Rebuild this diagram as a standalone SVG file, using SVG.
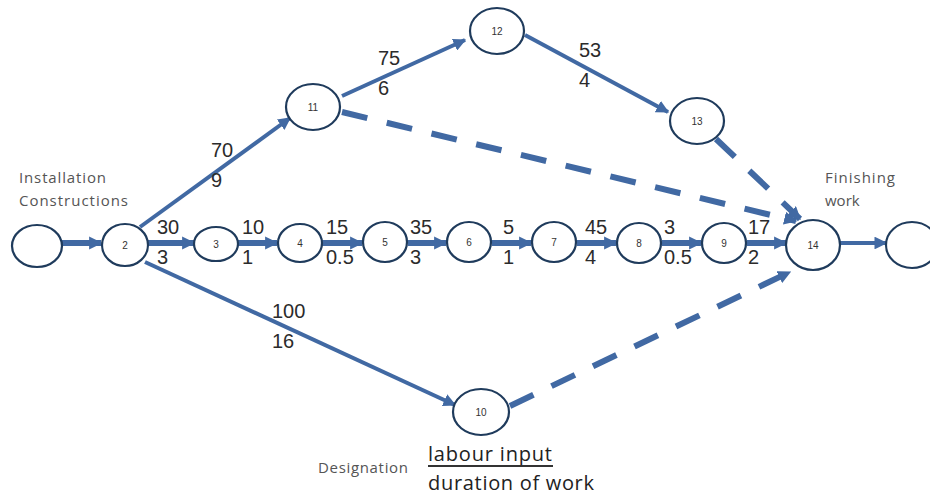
<svg xmlns="http://www.w3.org/2000/svg" width="930" height="497" viewBox="0 0 930 497">
<defs>
<marker id="ah" viewBox="0 0 10 10" refX="9" refY="5" markerWidth="3.2" markerHeight="3.2" orient="auto" markerUnits="strokeWidth">
<path d="M0,0 L10,5 L0,10 z" fill="#4169a3"/>
</marker>
<marker id="ahb" viewBox="0 0 10 10" refX="9" refY="5" markerWidth="2.2" markerHeight="2.2" orient="auto" markerUnits="strokeWidth">
<path d="M0,0 L10,5 L0,10 z" fill="#4169a3"/>
</marker>
</defs>
<style>
.n{fill:#fff;stroke:#1f3b5c;stroke-width:2.2}
.nl{font-family:"Liberation Sans",Arial,sans-serif;font-size:10px;fill:#333;text-anchor:middle}
.c{fill:none;stroke:#4169a3;stroke-width:4}
.m{stroke-width:6}
.d{stroke-dasharray:26 20;stroke-width:6}
.v{font-family:"Liberation Sans",Arial,sans-serif;font-size:20px;fill:#2b2b2b}
.t{font-family:"Open Sans","Liberation Sans",sans-serif;font-size:15px;fill:#555}
.g{font-family:"Open Sans","Liberation Sans",sans-serif;font-size:20px;fill:#222}
</style>
<rect width="930" height="497" fill="#fff"/>
<g id="connectors">
<line class="c m" x1="62" y1="243" x2="101" y2="243" marker-end="url(#ahb)"/>
<line class="c m" x1="148" y1="243" x2="194" y2="243" marker-end="url(#ahb)"/>
<line class="c m" x1="238" y1="243" x2="277" y2="243" marker-end="url(#ahb)"/>
<line class="c m" x1="322" y1="243" x2="362" y2="243" marker-end="url(#ahb)"/>
<line class="c m" x1="408" y1="243" x2="446" y2="243" marker-end="url(#ahb)"/>
<line class="c m" x1="492" y1="243" x2="531" y2="243" marker-end="url(#ahb)"/>
<line class="c m" x1="577" y1="243" x2="616" y2="243" marker-end="url(#ahb)"/>
<line class="c m" x1="662" y1="243" x2="701" y2="243" marker-end="url(#ahb)"/>
<line class="c m" x1="747" y1="243" x2="786" y2="243" marker-end="url(#ahb)"/>
<line class="c" x1="840" y1="243" x2="886" y2="243" marker-end="url(#ah)"/>
<line class="c" x1="140" y1="227" x2="290" y2="118" marker-end="url(#ah)"/>
<line class="c" x1="342" y1="96" x2="465" y2="40" marker-end="url(#ah)"/>
<line class="c" x1="525" y1="35" x2="668" y2="112" marker-end="url(#ah)"/>
<line class="c" x1="145" y1="262" x2="455" y2="405" marker-end="url(#ah)"/>
<line class="c d" x1="342" y1="112" x2="796" y2="221" marker-end="url(#ahb)"/>
<line class="c d" x1="716" y1="139" x2="800" y2="219" marker-end="url(#ahb)"/>
<line class="c d" x1="510" y1="406" x2="790" y2="272" marker-end="url(#ahb)"/>
</g>
<g id="n1"><ellipse class="n" cx="37" cy="246" rx="25" ry="21"/></g>
<g id="n2"><ellipse class="n" cx="125" cy="245" rx="23" ry="21"/><text class="nl" x="125" y="249">2</text></g>
<g id="n3"><ellipse class="n" cx="216" cy="244" rx="22" ry="17"/><text class="nl" x="216" y="248">3</text></g>
<g id="n4"><ellipse class="n" cx="300" cy="243" rx="22" ry="19"/><text class="nl" x="300" y="247">4</text></g>
<g id="n5"><ellipse class="n" cx="385" cy="242" rx="22" ry="20"/><text class="nl" x="385" y="246">5</text></g>
<g id="n6"><ellipse class="n" cx="469" cy="242" rx="22" ry="20"/><text class="nl" x="469" y="246">6</text></g>
<g id="n7"><ellipse class="n" cx="554" cy="242" rx="22" ry="20"/><text class="nl" x="554" y="246">7</text></g>
<g id="n8"><ellipse class="n" cx="639" cy="243" rx="22" ry="20"/><text class="nl" x="639" y="247">8</text></g>
<g id="n9"><ellipse class="n" cx="724" cy="243" rx="22" ry="20"/><text class="nl" x="724" y="247">9</text></g>
<g id="n14"><ellipse class="n" cx="813" cy="245" rx="27" ry="25"/><text class="nl" x="813" y="249">14</text></g>
<g id="n15"><ellipse class="n" cx="912" cy="245" rx="26" ry="23"/></g>
<g id="n11"><ellipse class="n" cx="313" cy="107" rx="27" ry="23"/><text class="nl" x="313" y="111">11</text></g>
<g id="n12"><ellipse class="n" cx="497" cy="31" rx="27" ry="23"/><text class="nl" x="497" y="35">12</text></g>
<g id="n13"><ellipse class="n" cx="697" cy="121" rx="27" ry="23"/><text class="nl" x="697" y="125">13</text></g>
<g id="n10"><ellipse class="n" cx="481" cy="412" rx="28" ry="23"/><text class="nl" x="481" y="416">10</text></g>
<g id="labels">
<text class="v" x="211" y="157">70</text><text class="v" x="211" y="187">9</text>
<text class="v" x="378" y="65">75</text><text class="v" x="378" y="95">6</text>
<text class="v" x="579" y="57">53</text><text class="v" x="579" y="87">4</text>
<text class="v" x="157" y="234">30</text><text class="v" x="157" y="264">3</text>
<text class="v" x="242" y="234">10</text><text class="v" x="242" y="264">1</text>
<text class="v" x="326" y="234">15</text><text class="v" x="326" y="264">0.5</text>
<text class="v" x="410" y="234">35</text><text class="v" x="410" y="264">3</text>
<text class="v" x="503" y="234">5</text><text class="v" x="503" y="264">1</text>
<text class="v" x="585" y="234">45</text><text class="v" x="585" y="264">4</text>
<text class="v" x="664" y="234">3</text><text class="v" x="664" y="264">0.5</text>
<text class="v" x="748" y="234">17</text><text class="v" x="748" y="264">2</text>
<text class="v" x="272" y="318">100</text><text class="v" x="272" y="348">16</text>
<text class="t" x="19" y="183" textLength="87">Installation</text>
<text class="t" x="19" y="206" textLength="109">Constructions</text>
<text class="t" x="825" y="183" textLength="70">Finishing</text>
<text class="t" x="825" y="206">work</text>
<text class="t" x="318" y="473" font-size="14" textLength="90">Designation</text>
<text class="g" x="428" y="461" textLength="124">labour input</text>
<line x1="428" y1="466" x2="553" y2="466" stroke="#333" stroke-width="2"/>
<text class="g" x="428" y="490" textLength="166">duration of work</text>
</g>
</svg>
